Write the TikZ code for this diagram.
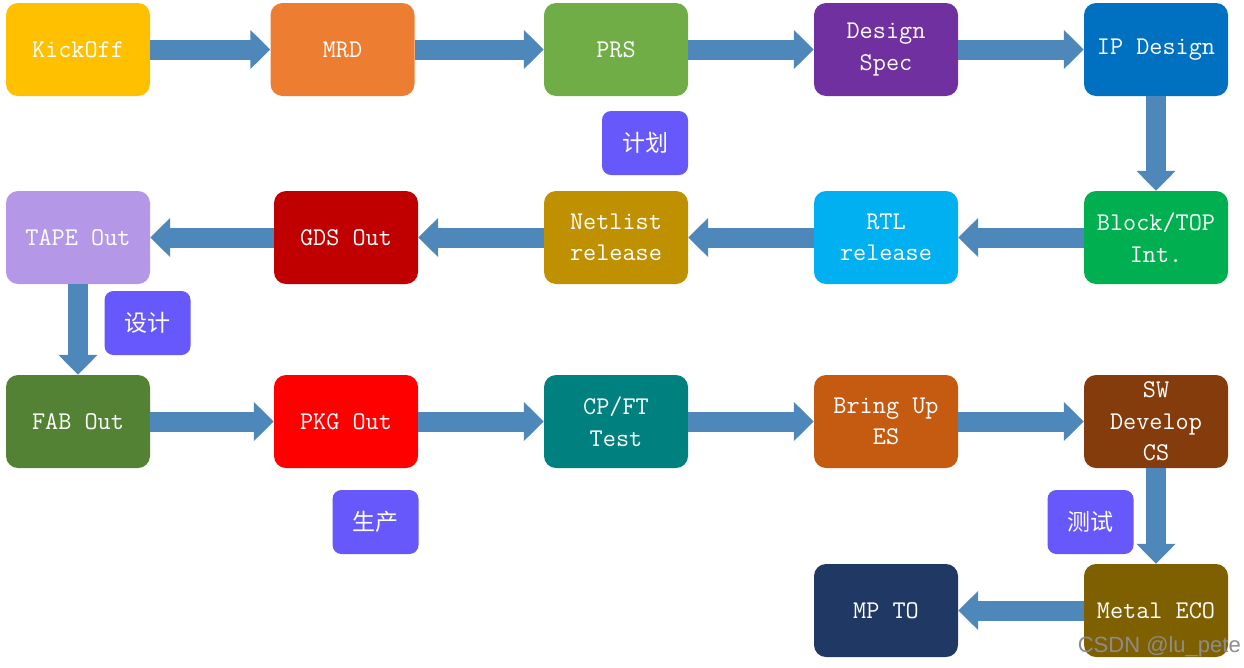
\documentclass[tikz,border=0pt]{standalone}
\usepackage{fontspec}
\newfontfamily\cjk{Noto Sans CJK SC}
\newfontfamily\wmfont{Liberation Sans}
\usetikzlibrary{arrows.meta}
\definecolor{cKick}{HTML}{FFC000}
\definecolor{cMRD}{HTML}{ED7D31}
\definecolor{cPRS}{HTML}{70AD47}
\definecolor{cSpec}{HTML}{7030A0}
\definecolor{cIP}{HTML}{0070C0}
\definecolor{cBlock}{HTML}{00B050}
\definecolor{cRTL}{HTML}{00B0F0}
\definecolor{cNet}{HTML}{BF9000}
\definecolor{cGDS}{HTML}{C00000}
\definecolor{cTape}{HTML}{B497E7}
\definecolor{cFab}{HTML}{548235}
\definecolor{cPKG}{HTML}{FF0000}
\definecolor{cCP}{HTML}{00807F}
\definecolor{cBring}{HTML}{C55A11}
\definecolor{cSW}{HTML}{843C0C}
\definecolor{cECO}{HTML}{7F6000}
\definecolor{cMP}{HTML}{203864}
\definecolor{tagc}{HTML}{6658FA}
\definecolor{arrowc}{HTML}{4E87BA}
\begin{document}
\begin{tikzpicture}[x=1pt,y=-1pt,
  box/.style={rounded corners=12pt, minimum width=144pt, minimum height=93pt,
    text=white, font=\ttfamily\fontsize{25.5}{31.5}\selectfont, align=center, inner sep=0pt},
  tag/.style={rounded corners=9pt, fill=tagc, minimum width=86pt, minimum height=64pt,
    text=white, inner sep=0pt, font=\cjk\fontsize{23}{28}\selectfont},
  flow/.style={draw=arrowc, line width=20pt, -{Triangle[length=20pt,width=38pt]}}]
\useasboundingbox (0,0) rectangle (1244,667);
% row 1
\node[box, fill=cKick] (kick) at (78,49.5) {KickOff};
\node[box, fill=cMRD] (mrd) at (342.5,49.5) {MRD};
\node[box, fill=cPRS] (prs) at (616,49.5) {PRS};
\node[box, fill=cSpec] (spec) at (886,49.5) {Design\\Spec};
\node[box, fill=cIP] (ip) at (1156,49.5) {IP Design};
% row 2
\node[box, fill=cTape] (tape) at (78,237.5) {TAPE Out};
\node[box, fill=cGDS] (gds) at (346,237.5) {GDS Out};
\node[box, fill=cNet] (net) at (616,237.5) {Netlist\\release};
\node[box, fill=cRTL] (rtl) at (886,237.5) {RTL\\release};
\node[box, fill=cBlock] (block) at (1156,237.5) {Block/TOP\\Int.};
% row 3
\node[box, fill=cFab] (fab) at (78,421.5) {FAB Out};
\node[box, fill=cPKG] (pkg) at (346,421.5) {PKG Out};
\node[box, fill=cCP] (cp) at (616,421.5) {CP/FT\\Test};
\node[box, fill=cBring] (bring) at (886,421.5) {Bring Up\\ES};
\node[box, fill=cSW] (sw) at (1156,421.5) {SW\\Develop\\CS};
% row 4
\node[box, fill=cMP] (mp) at (886,610.5) {MP TO};
\node[box, fill=cECO] (eco) at (1156,610.5) {Metal ECO};
% tags
\node[tag] (plan) at (645,143) {计划};
\node[tag] (design) at (147.5,323) {设计};
\node[tag] (prod) at (375.5,522) {生产};
\node[tag] (test) at (1090.5,522) {测试};
% arrows
\draw[flow] (kick) -- (mrd);
\draw[flow] (mrd) -- (prs);
\draw[flow] (prs) -- (spec);
\draw[flow] (spec) -- (ip);
\draw[flow] (ip) -- (block);
\draw[flow] (block) -- (rtl);
\draw[flow] (rtl) -- (net);
\draw[flow] (net) -- (gds);
\draw[flow] (gds) -- (tape);
\draw[flow] (tape) -- (fab);
\draw[flow] (fab) -- (pkg);
\draw[flow] (pkg) -- (cp);
\draw[flow] (cp) -- (bring);
\draw[flow] (bring) -- (sw);
\draw[flow] (sw) -- (eco);
\draw[flow] (eco) -- (mp);
% watermark
\node[anchor=east, text=black!45, font=\wmfont\fontsize{22}{24}\selectfont, inner sep=0pt] (wm) at (1241,647) {CSDN @lu\_pete};
\end{tikzpicture}
\end{document}
